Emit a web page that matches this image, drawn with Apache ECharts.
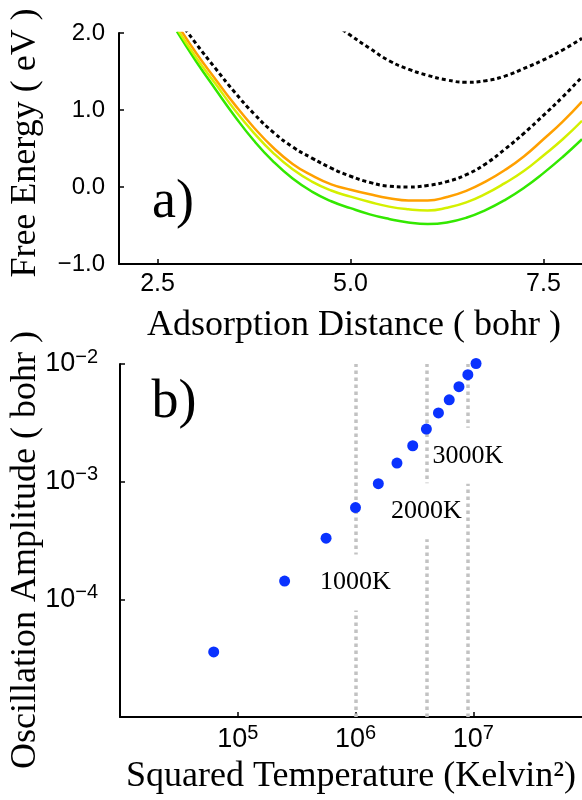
<!DOCTYPE html>
<html><head><meta charset="utf-8">
<script src="https://cdn.jsdelivr.net/npm/echarts@6/dist/echarts.min.js"></script>
<style>html,body{margin:0;padding:0;background:#fff}#c{width:582px;height:800px}</style>
</head><body><div id="c"></div>
<script>
// ---- panel a) data ----
const distance = [2.75, 3.0, 3.25, 3.5, 3.75, 4.0, 4.25, 4.5, 4.75, 5.0, 5.25, 5.5, 5.75, 6.0, 6.25, 6.5, 6.75, 7.0, 7.25, 7.5, 7.75, 8.0];
const energyDotted = [2.2, 1.86, 1.54, 1.23, 0.95, 0.71, 0.52, 0.375, 0.245, 0.14, 0.06, 0.01, 0.00, 0.02, 0.07, 0.16, 0.30, 0.49, 0.70, 0.93, 1.17, 1.43];
const energyOrange = [2.12, 1.74, 1.40, 1.07, 0.77, 0.51, 0.30, 0.15, 0.035, -0.035, -0.095, -0.145, -0.175, -0.175, -0.13, -0.05, 0.07, 0.22, 0.40, 0.62, 0.85, 1.11];
const energyYellow = [2.06, 1.68, 1.34, 1.00, 0.70, 0.44, 0.23, 0.07, -0.045, -0.125, -0.195, -0.255, -0.29, -0.305, -0.27, -0.20, -0.09, 0.05, 0.21, 0.41, 0.62, 0.86];
const energyGreen = [2.02, 1.63, 1.27, 0.92, 0.60, 0.33, 0.11, -0.06, -0.185, -0.275, -0.355, -0.415, -0.46, -0.48, -0.46, -0.40, -0.30, -0.17, -0.01, 0.18, 0.39, 0.62];
const distanceUpper = [4.75, 5.0, 5.25, 5.5, 5.75, 6.0, 6.25, 6.5, 6.75, 7.0, 7.25, 7.5, 7.75, 8.0];
const energyUpper = [2.15, 1.97, 1.80, 1.64, 1.53, 1.45, 1.39, 1.36, 1.38, 1.44, 1.54, 1.65, 1.78, 1.93];
const xTicksA = [2.5, 5.0, 7.5];

// ---- panel b) data ----
const squaredTemperature = [62500, 250000, 562500, 1000000, 1562500, 2250000, 3062500, 4000000, 5062500, 6250000, 7562500, 9000000, 10562500];
const amplitude = [3.57e-5, 1.43e-4, 3.31e-4, 6.02e-4, 9.62e-4, 1.44e-3, 2.02e-3, 2.80e-3, 3.84e-3, 4.96e-3, 6.42e-3, 8.11e-3, 1.01e-2];
const guideTemps = [1e6, 4e6, 9e6];
const guideLabels = ['1000K', '2000K', '3000K'];
const guideLabelAmp = [1.39e-4, 5.6e-4, 1.66e-3];

const zip = (a, b) => a.map((v, i) => [v, b[i]]);
const SANS = '"Liberation Sans", Arial, sans-serif';
const SERIF = '"Liberation Serif", "Times New Roman", serif';
const minus = '\u2212';

const chart = echarts.init(document.getElementById('c'), null, {renderer: 'canvas'});

const axisLineStyle = {show: true, onZero: false, lineStyle: {color: '#000', width: 2}};
const tickStyle = {show: true, inside: true, length: 5, lineStyle: {color: '#000', width: 1.5}};
const expOf = v => Math.round(Math.log10(v));
const richPow = {
  b: {fontFamily: SANS, fontSize: 27, lineHeight: 34, color: '#000'},
  s: {fontFamily: SANS, fontSize: 20, lineHeight: 20, verticalAlign: 'top', color: '#000'}
};

const option = {
  animation: false,
  backgroundColor: '#fff',
  grid: [
    {left: 119, top: 33, width: 463, height: 231, containLabel: false, outerBoundsMode: 'none'},
    {left: 120, top: 364, width: 471, height: 353, containLabel: false, outerBoundsMode: 'none'}
  ],
  xAxis: [
    {
      gridIndex: 0, type: 'value', min: 2.0, max: 8.0,
      axisLine: axisLineStyle,
      axisTick: Object.assign({}, tickStyle, {customValues: xTicksA}),
      axisLabel: {customValues: xTicksA, margin: 8, color: '#000', fontFamily: SANS, fontSize: 25,
        formatter: v => v.toFixed(1)},
      splitLine: {show: false}
    },
    {
      gridIndex: 1, type: 'log', logBase: 10, min: 1e4, max: 1e8,
      axisLine: axisLineStyle,
      axisTick: tickStyle,
      axisLabel: {margin: 6, color: '#000',
        formatter: v => { const e = expOf(v); if (e === 4 || e === 8) return ''; return '{b|10}{s|' + e + '}'; },
        rich: richPow
      },
      splitLine: {show: false}
    }
  ],
  yAxis: [
    {
      gridIndex: 0, type: 'value', min: -1, max: 2, interval: 1,
      axisLine: axisLineStyle,
      axisTick: tickStyle,
      axisLabel: {margin: 14, color: '#000', fontFamily: SANS, fontSize: 24,
        formatter: v => (v < 0 ? minus + Math.abs(v).toFixed(1) : v.toFixed(1))},
      splitLine: {show: false}
    },
    {
      gridIndex: 1, type: 'log', logBase: 10, min: 1e-5, max: 1e-2,
      axisLine: axisLineStyle,
      axisTick: tickStyle,
      axisLabel: {margin: 22, color: '#000',
        formatter: v => { const e = expOf(v); if (e === -5) return ''; return '{b|10}{s|' + minus + Math.abs(e) + '}'; },
        rich: richPow
      },
      splitLine: {show: false}
    }
  ],
  series: [
    {type: 'line', xAxisIndex: 0, yAxisIndex: 0, data: zip(distance, energyGreen), smooth: true, showSymbol: false, symbol: 'none',
      lineStyle: {color: '#33e800', width: 2.5}, z: 2},
    {type: 'line', xAxisIndex: 0, yAxisIndex: 0, data: zip(distance, energyYellow), smooth: true, showSymbol: false, symbol: 'none',
      lineStyle: {color: '#d4f000', width: 2.5}, z: 2},
    {type: 'line', xAxisIndex: 0, yAxisIndex: 0, data: zip(distance, energyOrange), smooth: true, showSymbol: false, symbol: 'none',
      lineStyle: {color: '#ffa000', width: 2.5}, z: 2},
    {type: 'line', xAxisIndex: 0, yAxisIndex: 0, data: zip(distance, energyDotted), smooth: true, showSymbol: false, symbol: 'none',
      lineStyle: {color: '#000', width: 3, type: [4, 3]}, z: 3},
    {type: 'line', xAxisIndex: 0, yAxisIndex: 0, data: zip(distanceUpper, energyUpper), smooth: true, showSymbol: false, symbol: 'none',
      lineStyle: {color: '#000', width: 3, type: [4, 3]}, z: 3},
    // guides
    {type: 'line', xAxisIndex: 1, yAxisIndex: 1, data: [], z: 1, silent: true,
      markLine: {z: 1, symbol: ['none', 'none'], silent: true, label: {show: false},
        lineStyle: {color: '#c2c2c2', width: 3.5, type: [3.5, 3.5], opacity: 1},
        data: guideTemps.map(t => ({xAxis: t}))}
    },
    // guide labels
    {type: 'scatter', xAxisIndex: 1, yAxisIndex: 1, z: 3, symbolSize: 1, silent: true,
      itemStyle: {color: 'rgba(255,255,255,0)', opacity: 1},
      data: guideTemps.map((t, i) => ({value: [t, guideLabelAmp[i]], name: guideLabels[i]})),
      label: {show: true, position: 'inside', formatter: p => p.name, color: '#000', opacity: 1,
        fontFamily: SERIF, fontSize: 26, backgroundColor: '#fff', padding: [15, 0]}
    },
    {type: 'scatter', xAxisIndex: 1, yAxisIndex: 1, z: 5, symbolSize: 11, clip: false,
      itemStyle: {color: '#0a32ff', opacity: 1},
      data: zip(squaredTemperature, amplitude)}
  ],
  graphic: [
    {type: 'text', x: 173, y: 203, style: {text: 'a)', font: '54px ' + SERIF, fill: '#000', align: 'center', verticalAlign: 'middle'}},
    {type: 'text', x: 174, y: 403, style: {text: 'b)', font: '54px ' + SERIF, fill: '#000', align: 'center', verticalAlign: 'middle'}},
    {type: 'text', x: 354, y: 326, style: {text: 'Adsorption Distance ( bohr )', font: '36px ' + SERIF, fill: '#000', align: 'center', verticalAlign: 'middle'}},
    {type: 'text', x: 351, y: 777, style: {text: 'Squared Temperature (Kelvin\u00b2)', font: '36px ' + SERIF, fill: '#000', align: 'center', verticalAlign: 'middle'}},
    {type: 'text', x: 26, y: 143, rotation: Math.PI / 2, style: {text: 'Free Energy ( eV )', font: '36px ' + SERIF, fill: '#000', align: 'center', verticalAlign: 'middle'}},
    {type: 'text', x: 26, y: 550, rotation: Math.PI / 2, style: {text: 'Oscillation Amplitude ( bohr )', font: '36px ' + SERIF, fill: '#000', align: 'center', verticalAlign: 'middle'}}
  ]
};
chart.setOption(option);
</script>
</body></html>
